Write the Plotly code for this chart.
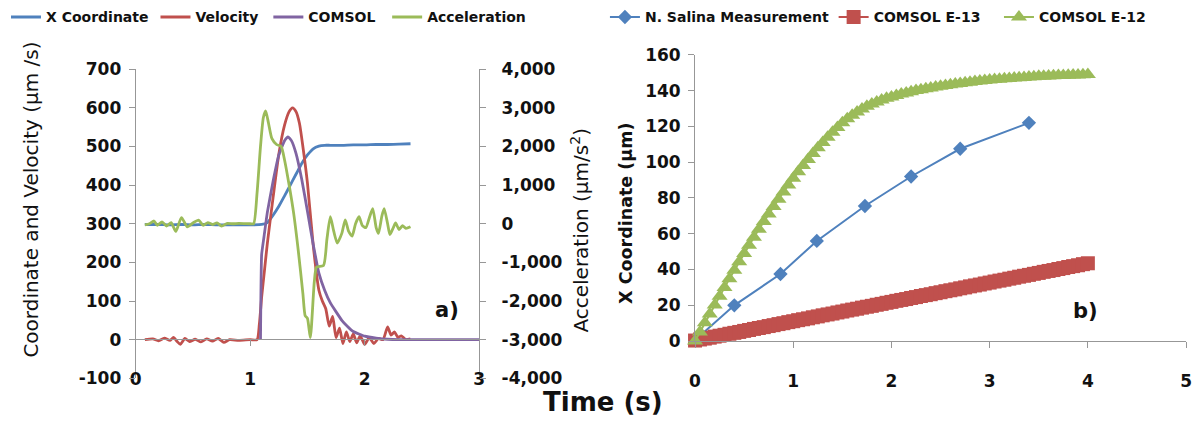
import plotly.graph_objects as go

# ---------------- panel a) : tracking record ----------------
x_coord_t = [0.08, 0.2, 0.3, 0.4, 0.5, 0.6, 0.7, 0.8, 0.9, 1.0, 1.1, 1.15, 1.2, 1.25, 1.3,
             1.35, 1.4, 1.45, 1.5, 1.55, 1.6, 1.65, 1.7, 1.8, 1.9, 2.0, 2.1, 2.2, 2.3, 2.4]
x_coord_v = [298, 298, 297, 298, 297, 298, 297, 297, 297, 297, 298, 303, 322, 345, 372,
             400, 428, 456, 478, 494, 501, 503, 503, 503, 504, 504, 505, 505, 506, 507]

velocity_t = [0.08, 0.15, 0.2, 0.25, 0.3, 0.33, 0.36, 0.39, 0.43, 0.47, 0.52, 0.57, 0.62, 0.67,
              0.72, 0.77, 0.82, 0.9, 1.0, 1.06, 1.08, 1.1, 1.125, 1.15, 1.2, 1.25, 1.3, 1.34,
              1.37, 1.4, 1.43, 1.46, 1.5, 1.55, 1.6, 1.63, 1.66, 1.69, 1.72, 1.75, 1.78, 1.81,
              1.84, 1.87, 1.9, 1.93, 1.96, 2.0, 2.04, 2.08, 2.12, 2.16, 2.2, 2.23, 2.26, 2.29,
              2.32, 2.36, 2.4]
velocity_v = [0, 2, -3, 4, -2, 6, -4, -12, 3, -5, 1, -6, 2, -4,
              3, -7, 0, -2, 0, 0, 40, 110, 180, 250, 368, 480, 555, 590,
              600, 590, 560, 500, 405, 245, 128, 100, 80, 35, 60, 5, 30, -10,
              20, -5, 15, -8, 10, -12, 5, -10, 3, 0, 33, 12, 20, 6,
              10, 0, 2]

comsol_t = [1.09, 1.10, 1.12, 1.15, 1.2, 1.25, 1.3, 1.33, 1.36, 1.4, 1.45, 1.5, 1.55, 1.6,
            1.65, 1.7, 1.75, 1.8, 1.85, 1.9, 2.0, 2.1, 2.2, 2.3, 2.5, 2.75, 3.0]
comsol_v = [0, 220, 265, 330, 410, 478, 515, 525, 515, 482, 415, 332, 247, 172,
            128, 95, 72, 50, 34, 21, 9, 4, 1, 0, 0, 0, 0]

accel_t = [0.08, 0.12, 0.16, 0.19, 0.23, 0.27, 0.31, 0.35, 0.40, 0.45, 0.50, 0.55, 0.59, 0.63,
           0.67, 0.71, 0.75, 0.80, 0.85, 0.90, 1.00, 1.03, 1.06, 1.09, 1.115, 1.135, 1.16, 1.19,
           1.23, 1.27, 1.30, 1.34, 1.38, 1.42, 1.46, 1.48, 1.50, 1.525, 1.56, 1.58, 1.64, 1.67,
           1.70, 1.73, 1.76, 1.80, 1.83, 1.86, 1.89, 1.92, 1.95, 1.98, 2.01, 2.04, 2.07, 2.10,
           2.12, 2.15, 2.17, 2.20, 2.22, 2.25, 2.27, 2.30, 2.33, 2.36, 2.40]
accel_v = [-30, 0, 70, -40, 50, -60, 30, -200, 160, -80, 20, 90, -40, 30,
           -20, 20, -60, 10, 0, 10, 0, 0, 800, 2000, 2750, 2920, 2600, 2200,
           2050, 2000, 1650, 1000, 260, -700, -1800, -2380, -2450, -2950, -1500, -1120, -1080, -400,
           180, -200, -500, -250, 100, -200, -320, 0, 180, -50, -100, 150, 390, -100,
           -250, 200, 390, 0, -280, -100, 20, -150, -50, -120, -80]

coord_ticks = [-100, 0, 100, 200, 300, 400, 500, 600, 700]
coord_labels = ["-100", "0", "100", "200", "300", "400", "500", "600", "700"]
accel_ticks = [-4000, -3000, -2000, -1000, 0, 1000, 2000, 3000, 4000]
accel_labels = ["-4,000", "-3,000", "-2,000", "-1,000", "0", "1,000", "2,000", "3,000", "4,000"]

# ---------------- panel b) : displacement vs time ----------------
salina_t = [0.03, 0.40, 0.87, 1.24, 1.73, 2.20, 2.70, 3.40]
salina_v = [2, 20, 37.5, 56, 75.5, 92, 107.5, 122]

comsol_time = [0.00, 0.05, 0.10, 0.15, 0.20, 0.25, 0.30, 0.35, 0.40, 0.45,
               0.50, 0.55, 0.60, 0.65, 0.70, 0.75, 0.80, 0.85, 0.90, 0.95,
               1.00, 1.05, 1.10, 1.15, 1.20, 1.25, 1.30, 1.35, 1.40, 1.45,
               1.50, 1.55, 1.60, 1.65, 1.70, 1.75, 1.80, 1.85, 1.90, 1.95,
               2.00, 2.05, 2.10, 2.15, 2.20, 2.25, 2.30, 2.35, 2.40, 2.45,
               2.50, 2.55, 2.60, 2.65, 2.70, 2.75, 2.80, 2.85, 2.90, 2.95,
               3.00, 3.05, 3.10, 3.15, 3.20, 3.25, 3.30, 3.35, 3.40, 3.45,
               3.50, 3.55, 3.60, 3.65, 3.70, 3.75, 3.80, 3.85, 3.90, 3.95,
               4.00]
comsol_e13 = [0.3, 0.9, 1.4, 1.9, 2.5, 3.0, 3.5, 4.1, 4.6, 5.1,
              5.7, 6.2, 6.8, 7.3, 7.8, 8.4, 8.9, 9.5, 10.0, 10.6,
              11.1, 11.7, 12.2, 12.7, 13.3, 13.8, 14.4, 14.9, 15.4, 16.0,
              16.5, 17.1, 17.6, 18.1, 18.7, 19.2, 19.7, 20.3, 20.8, 21.4,
              21.9, 22.5, 23.0, 23.5, 24.1, 24.6, 25.2, 25.7, 26.2, 26.8,
              27.3, 27.9, 28.4, 28.9, 29.5, 30.0, 30.6, 31.1, 31.6, 32.2,
              32.7, 33.3, 33.8, 34.3, 34.9, 35.4, 36.0, 36.5, 37.0, 37.6,
              38.1, 38.7, 39.2, 39.7, 40.3, 40.8, 41.4, 41.9, 42.4, 43.0,
              43.5]
comsol_e12 = [0.0, 5.1, 10.2, 15.2, 20.2, 25.1, 30.0, 34.8, 39.6, 44.3,
              49.0, 53.6, 58.1, 62.5, 66.8, 71.0, 75.2, 79.3, 83.3, 87.2,
              91.0, 94.6, 98.1, 101.5, 104.8, 108.0, 111.0, 113.9, 116.7, 119.4,
              122.0, 124.3, 126.3, 128.1, 129.7, 131.2, 132.5, 133.7, 134.8, 135.7,
              136.5, 137.3, 138.1, 138.7, 139.4, 140.0, 140.5, 141.0, 141.5, 142.0,
              142.5, 142.9, 143.3, 143.7, 144.0, 144.4, 144.7, 145.1, 145.4, 145.7,
              146.0, 146.2, 146.4, 146.6, 146.8, 147.0, 147.2, 147.4, 147.6, 147.8,
              148.0, 148.1, 148.2, 148.3, 148.4, 148.5, 148.6, 148.7, 148.8, 148.9,
              149.0]

BLUE = "#4F81BD"
RED = "#C0504D"
PURPLE = "#8064A2"
GREEN = "#9BBB59"
AXIS = "#979797"
TEXT = "#111111"
FONT = "DejaVu Sans"

W, H = 1199, 436


def px_x(p):
    return p / W


def px_y(p):
    return (H - p) / H


fig = go.Figure()

fig.add_trace(go.Scatter(x=x_coord_t, y=x_coord_v, name="X Coordinate", mode="lines",
                         line=dict(color=BLUE, width=2.8, shape="spline", smoothing=0.6),
                         xaxis="x", yaxis="y", legend="legend"))
fig.add_trace(go.Scatter(x=velocity_t, y=velocity_v, name="Velocity", mode="lines",
                         line=dict(color=RED, width=2.8, shape="spline", smoothing=0.6),
                         xaxis="x", yaxis="y", legend="legend2"))
fig.add_trace(go.Scatter(x=comsol_t, y=comsol_v, name="COMSOL", mode="lines",
                         line=dict(color=PURPLE, width=2.8, shape="spline", smoothing=0.4),
                         xaxis="x", yaxis="y", legend="legend3"))
fig.add_trace(go.Scatter(x=accel_t, y=accel_v, name="Acceleration", mode="lines",
                         line=dict(color=GREEN, width=2.8, shape="spline", smoothing=0.6),
                         xaxis="x", yaxis="y2", legend="legend4"))

fig.add_trace(go.Scatter(x=salina_t, y=salina_v, name="N. Salina Measurement",
                         mode="lines+markers", line=dict(color=BLUE, width=2),
                         marker=dict(symbol="diamond", size=11, color=BLUE),
                         xaxis="x2", yaxis="y3", legend="legend5", cliponaxis=False))
fig.add_trace(go.Scatter(x=comsol_time, y=comsol_e13, name="COMSOL E-13",
                         mode="lines+markers", line=dict(color=RED, width=2),
                         marker=dict(symbol="square", size=14, color=RED),
                         xaxis="x2", yaxis="y3", legend="legend6", cliponaxis=False))
fig.add_trace(go.Scatter(x=comsol_time, y=comsol_e12, name="COMSOL E-12",
                         mode="lines+markers", line=dict(color=GREEN, width=2),
                         marker=dict(symbol="triangle-up", size=14, color=GREEN),
                         xaxis="x2", yaxis="y3", legend="legend7", cliponaxis=False))

tick_font = dict(family=FONT, size=17, color=TEXT, weight="bold")
common = dict(showline=True, linecolor=AXIS, linewidth=1, ticks="outside", ticklen=6,
              tickcolor=AXIS, showgrid=False, zeroline=False, tickfont=tick_font)
legend_font = dict(family=FONT, size=14, color=TEXT, weight="bold")

fig.update_layout(
    width=W, height=H,
    margin=dict(l=0, r=0, t=0, b=0),
    paper_bgcolor="white", plot_bgcolor="rgba(0,0,0,0)",
    showlegend=True,
    xaxis=dict(range=[0, 3], dtick=1, domain=[px_x(131), px_x(478)], anchor="free",
               position=px_y(345), ticklabelstandoff=18, **common),
    yaxis=dict(range=[-100, 700], tickvals=coord_ticks, ticktext=coord_labels,
               domain=[px_y(386), px_y(62)], anchor="x", ticklabelstandoff=4, **common),
    yaxis2=dict(range=[-4000, 4000], tickvals=accel_ticks, ticktext=accel_labels,
                domain=[px_y(386), px_y(62)], anchor="x", overlaying="y", side="right",
                ticklabelstandoff=12, **common),
    xaxis2=dict(range=[0, 5], dtick=1, domain=[px_x(696), px_x(1192)], anchor="y3",
                ticklabelstandoff=19, **common),
    yaxis3=dict(range=[0, 160], dtick=20, domain=[px_y(347), px_y(47)], anchor="x2",
                ticklabelstandoff=4, **common),
)

# one legend box per entry so each entry sits where it belongs along the top row
legend_left_px = [0, 151, 265, 385, 605, 836, 1003]
for i, left in enumerate(legend_left_px):
    key = "legend" if i == 0 else "legend%d" % (i + 1)
    fig.update_layout({key: dict(orientation="h", x=px_x(left), y=px_y(-9), xanchor="left",
                                 yanchor="top", font=legend_font,
                                 bgcolor="rgba(0,0,0,0)")})

annotations = [
    dict(text="Coordinate and Velocity (μm /s)", x=px_x(25), y=px_y(199), textangle=-90,
         font=dict(family=FONT, size=20, color=TEXT)),
    dict(text="Acceleration (μm/s<sup>2</sup>)", x=px_x(580), y=px_y(231), textangle=-90,
         font=dict(family=FONT, size=20, color=TEXT)),
    dict(text="X Coordinate (μm)", x=px_x(627), y=px_y(213), textangle=-90,
         font=dict(family=FONT, size=17.5, color=TEXT, weight="bold")),
    dict(text="Time (s)", x=px_x(603), y=px_y(411),
         font=dict(family=FONT, size=26, color=TEXT, weight="bold")),
    dict(text="a)", x=px_x(445), y=px_y(314),
         font=dict(family=FONT, size=21, color=TEXT, weight="bold")),
    dict(text="b)", x=px_x(1090), y=px_y(315),
         font=dict(family=FONT, size=21, color=TEXT, weight="bold")),
]
for a in annotations:
    a.update(xref="paper", yref="paper", showarrow=False, xanchor="center", yanchor="middle")
fig.update_layout(annotations=annotations)

fig.write_html("out.html")
